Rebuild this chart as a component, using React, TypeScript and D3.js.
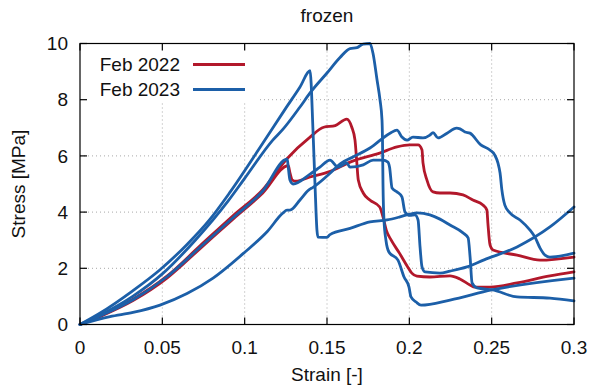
import { useRef, useEffect } from 'react';
import * as d3 from 'd3';

type Pt = [number, number];

var X_TICKS = [0, 0.05, 0.1, 0.15, 0.2, 0.25, 0.3];
var Y_TICKS = [0, 2, 4, 6, 8, 10];
var SERIES_NAMES = ['Feb 2022', 'Feb 2023'];
var SERIES_COLORS = ['#B2182B', '#1C5FA8'];

// Feb 2022 specimens  [strain, stress]
var feb2022a: Pt[] = [
  [0, 0], [0.012, 0.3], [0.0322, 0.9], [0.0528, 1.72], [0.0729, 2.8], [0.0929, 3.87], [0.111, 4.8],
  [0.1257, 5.9], [0.1397, 6.67], [0.148, 7.02], [0.155, 7.08], [0.162, 7.31], [0.165, 7.03], [0.167, 6.56],
  [0.168, 5.85], [0.169, 5.14], [0.172, 4.68], [0.176, 4.43], [0.182, 4.18], [0.184, 3.83], [0.186, 3.36],
  [0.189, 3.0], [0.194, 2.54], [0.199, 2.05], [0.2015, 1.83], [0.2046, 1.72], [0.2125, 1.69], [0.2247, 1.73],
  [0.2307, 1.62], [0.2368, 1.41], [0.2398, 1.33], [0.249, 1.33], [0.2654, 1.48], [0.2854, 1.73], [0.3, 1.87]
];
var feb2022b: Pt[] = [
  [0, 0], [0.012, 0.28], [0.0322, 0.85], [0.0528, 1.65], [0.0729, 2.7], [0.0929, 3.75], [0.111, 4.68],
  [0.1265, 5.65], [0.1275, 5.4], [0.129, 5.14], [0.131, 5.1], [0.1397, 5.25], [0.152, 5.45], [0.164, 5.78],
  [0.182, 6.1], [0.1925, 6.32], [0.2004, 6.39], [0.2053, 6.39], [0.2077, 6.21], [0.2083, 5.75], [0.2107, 5.14],
  [0.2144, 4.72], [0.2186, 4.68], [0.2247, 4.68], [0.2326, 4.61], [0.2386, 4.43], [0.2447, 4.25], [0.2471, 4.07],
  [0.2477, 3.61], [0.249, 2.83], [0.2508, 2.65], [0.2654, 2.47], [0.2794, 2.29], [0.3, 2.4]
];

// Feb 2023 specimens
var feb2023a: Pt[] = [
  [0, 0], [0.012, 0.4], [0.032, 1.2], [0.0486, 1.95], [0.065, 2.85], [0.079, 3.75], [0.091, 4.7], [0.111, 6.45],
  [0.125, 7.7], [0.1336, 8.45], [0.1397, 9.03], [0.1415, 6.9], [0.1427, 5.0], [0.1439, 3.36], [0.1445, 3.11],
  [0.15, 3.1], [0.1518, 3.2], [0.164, 3.42], [0.1761, 3.65], [0.1865, 3.72], [0.1943, 3.83], [0.2004, 3.93],
  [0.2047, 3.97], [0.2125, 3.9], [0.2186, 3.75], [0.2247, 3.54], [0.2326, 3.26], [0.2357, 3.08], [0.2369, 2.4],
  [0.2381, 1.48], [0.2411, 1.3], [0.2508, 1.23], [0.2654, 0.98], [0.2854, 0.94], [0.3, 0.84]
];
var feb2023b: Pt[] = [
  [0, 0], [0.012, 0.33], [0.032, 1.0], [0.05, 1.8], [0.07, 3.0], [0.09, 4.4], [0.1, 5.2], [0.1172, 6.57],
  [0.1233, 6.95], [0.1336, 7.74], [0.1397, 8.24], [0.15, 8.95], [0.1579, 9.5], [0.164, 9.82], [0.1682, 9.85],
  [0.1719, 9.98], [0.1761, 10.0], [0.1779, 9.66], [0.1804, 8.7], [0.1822, 7.99], [0.1834, 7.28], [0.1837, 6.57],
  [0.184, 5.0], [0.1846, 3.72], [0.1858, 3.0], [0.1876, 2.58], [0.1931, 2.29], [0.1968, 1.69], [0.1998, 1.33],
  [0.201, 0.98], [0.2041, 0.8], [0.2071, 0.69], [0.2247, 0.87], [0.25, 1.23], [0.3, 1.65]
];
var feb2023c: Pt[] = [
  [0, 0], [0.012, 0.3], [0.0322, 0.88], [0.0528, 1.7], [0.0729, 2.75], [0.0929, 3.8], [0.111, 4.75],
  [0.1257, 5.88], [0.1275, 5.14], [0.1294, 5.0], [0.1397, 5.35], [0.1457, 5.6], [0.1518, 5.85], [0.1567, 5.6],
  [0.162, 5.75], [0.164, 5.6], [0.172, 5.68], [0.178, 5.85], [0.184, 5.85], [0.187, 5.78], [0.188, 5.6],
  [0.1895, 4.86], [0.1925, 4.72], [0.1955, 4.54], [0.1974, 4.0], [0.2004, 3.88], [0.2034, 3.9], [0.2053, 3.72],
  [0.2065, 2.76], [0.2077, 2.05], [0.2095, 1.87], [0.2186, 1.83], [0.2247, 1.9], [0.235, 2.05], [0.2454, 2.3],
  [0.2654, 2.76], [0.2854, 3.47], [0.3, 4.18]
];
var feb2023d: Pt[] = [
  [0, 0], [0.0182, 0.28], [0.0322, 0.43], [0.0486, 0.69], [0.065, 1.1], [0.0808, 1.65], [0.1002, 2.58],
  [0.1136, 3.3], [0.1233, 3.97], [0.1257, 4.07], [0.1275, 4.07], [0.1336, 4.43], [0.139, 4.79], [0.1415, 4.88],
  [0.152, 5.39], [0.158, 5.72], [0.1658, 5.96], [0.1761, 6.28], [0.1883, 6.81], [0.1925, 6.92], [0.1955, 6.67],
  [0.1986, 6.56], [0.2022, 6.67], [0.2083, 6.64], [0.2125, 6.74], [0.2144, 6.83], [0.2174, 6.64], [0.2229, 6.81],
  [0.2287, 6.99], [0.2308, 6.96], [0.2338, 6.85], [0.2368, 6.81], [0.2434, 6.39], [0.2489, 6.21], [0.2519, 6.03],
  [0.2538, 5.75], [0.2551, 5.39], [0.2562, 4.79], [0.258, 4.25], [0.2611, 3.97], [0.2672, 3.72], [0.2733, 3.36],
  [0.2763, 3.11], [0.2794, 2.72], [0.2824, 2.47], [0.2854, 2.4], [0.3, 2.54]
];

var CURVES = [
  { series: 0, pts: feb2022a },
  { series: 0, pts: feb2022b },
  { series: 1, pts: feb2023a },
  { series: 1, pts: feb2023b },
  { series: 1, pts: feb2023c },
  { series: 1, pts: feb2023d }
];

var W = 592;
var H = 391;
var FONT = '"Liberation Sans", Arial, Helvetica, sans-serif';

export default function App() {
  var svgRef = useRef<SVGSVGElement | null>(null);

  useEffect(function () {
    var svg = d3.select(svgRef.current);
    svg.selectAll('*').remove();

    var left = 80, right = 574, top = 43.5, bottom = 324.5;
    var x = d3.scaleLinear().domain([0, 0.3]).range([left, right]);
    var y = d3.scaleLinear().domain([0, 10]).range([bottom, top]);

    svg.append('rect').attr('width', W).attr('height', H).attr('fill', '#fff');

    // dotted grid
    var grid = svg.append('g').attr('stroke', '#a8a8a8').attr('stroke-width', 1).attr('stroke-dasharray', '1,3');
    X_TICKS.slice(1, -1).forEach(function (t) {
      grid.append('line').attr('x1', x(t)).attr('x2', x(t)).attr('y1', top).attr('y2', bottom);
    });
    Y_TICKS.slice(1, -1).forEach(function (t) {
      grid.append('line').attr('x1', left).attr('x2', right).attr('y1', y(t)).attr('y2', y(t));
    });

    // opaque key background
    svg.append('rect').attr('x', left + 1).attr('y', top + 1).attr('width', 176).attr('height', 57).attr('fill', '#fff');

    // curves
    var line = d3.line<Pt>()
      .x(function (d) { return x(d[0]); })
      .y(function (d) { return y(d[1]); })
      .curve(d3.curveMonotoneX);

    svg.append('g')
      .selectAll('path')
      .data(CURVES)
      .join('path')
      .attr('d', function (c) { return line(c.pts); })
      .attr('fill', 'none')
      .attr('stroke', function (c) { return SERIES_COLORS[c.series]; })
      .attr('stroke-width', 2.8)
      .attr('stroke-linejoin', 'round')
      .attr('stroke-linecap', 'round');

    // frame + ticks
    var axes = svg.append('g').attr('stroke', '#000').attr('stroke-width', 1.2);
    axes.append('rect').attr('x', left).attr('y', top).attr('width', right - left).attr('height', bottom - top).attr('fill', 'none');
    var tl = 7;
    X_TICKS.forEach(function (t) {
      axes.append('line').attr('x1', x(t)).attr('x2', x(t)).attr('y1', bottom).attr('y2', bottom - tl);
      axes.append('line').attr('x1', x(t)).attr('x2', x(t)).attr('y1', top).attr('y2', top + tl);
    });
    Y_TICKS.forEach(function (t) {
      axes.append('line').attr('x1', left).attr('x2', left + tl).attr('y1', y(t)).attr('y2', y(t));
      axes.append('line').attr('x1', right).attr('x2', right - tl).attr('y1', y(t)).attr('y2', y(t));
    });

    var txt = svg.append('g').attr('font-family', FONT).attr('font-size', 19).attr('fill', '#111');

    X_TICKS.forEach(function (t) {
      txt.append('text').attr('x', x(t)).attr('y', 354).attr('text-anchor', 'middle').text(String(t));
    });
    Y_TICKS.forEach(function (t) {
      txt.append('text').attr('x', left - 12).attr('y', y(t)).attr('dy', '0.35em').attr('text-anchor', 'end').text(String(t));
    });

    txt.append('text').attr('x', (left + right) / 2).attr('y', 21.5).attr('text-anchor', 'middle').text('frozen');
    txt.append('text').attr('x', (left + right) / 2).attr('y', 381).attr('text-anchor', 'middle').text('Strain [-]');
    txt.append('text')
      .attr('transform', 'translate(24.5,' + (top + bottom) / 2 + ') rotate(-90)')
      .attr('text-anchor', 'middle')
      .text('Stress [MPa]');

    // legend
    SERIES_NAMES.forEach(function (name, i) {
      var ly = 64.5 + i * 25;
      txt.append('text').attr('x', 180).attr('y', ly).attr('dy', '0.35em').attr('text-anchor', 'end').text(name);
      svg.append('line')
        .attr('x1', 193).attr('x2', 245).attr('y1', ly).attr('y2', ly)
        .attr('stroke', SERIES_COLORS[i]).attr('stroke-width', 2.8);
    });
  }, []);

  return (
    <svg
      ref={svgRef}
      width={W}
      height={H}
      style={{ position: 'absolute', left: 0, top: 0 }}
    />
  );
}
